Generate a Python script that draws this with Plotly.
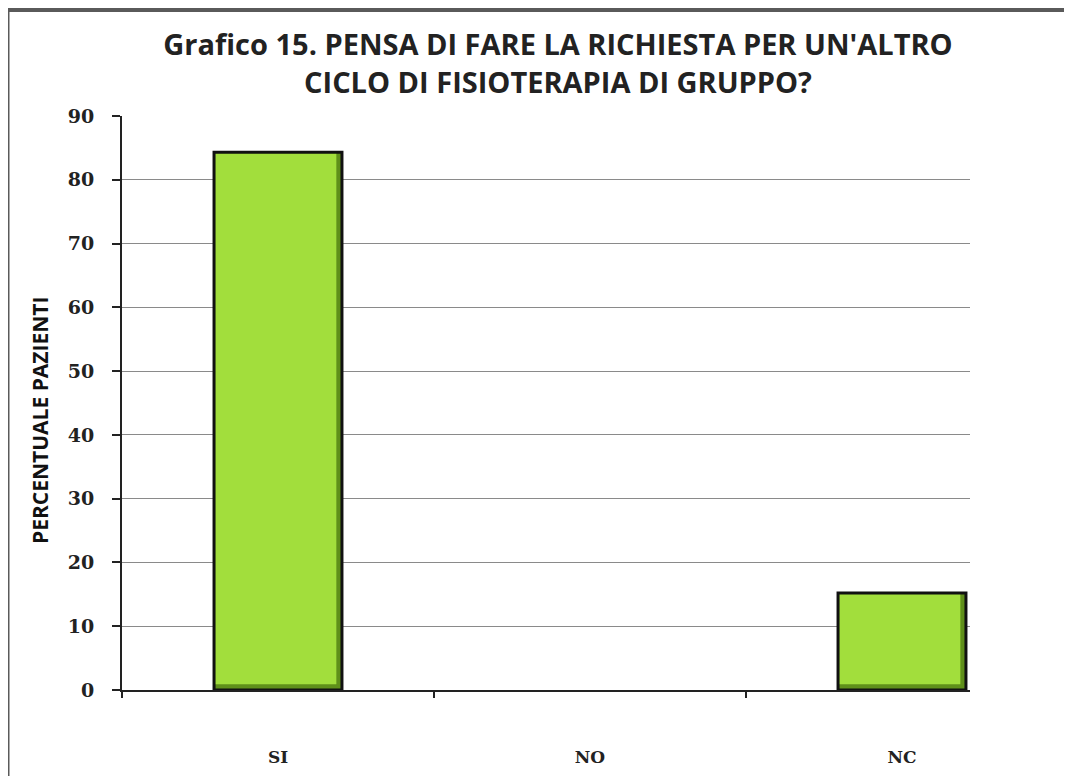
import plotly.graph_objects as go

categories = ["SI", "NO", "NC"]
values = [84.3, 0, 15.2]
y_ticks = [0, 10, 20, 30, 40, 50, 60, 70, 80, 90]

title_text = "Grafico 15. PENSA DI FARE LA RICHIESTA PER UN'ALTRO<br>CICLO DI FISIOTERAPIA DI GRUPPO?"
y_title = "PERCENTUALE PAZIENTI"

W, H = 1072, 776
OFF = 8  # page body margin
L, R, T, B = 122 - OFF, 102 + OFF, 116 - OFF, 86 + OFF
BAR_W = 0.41
BEVEL_X = 0.018   # category units
BEVEL_Y = 0.9     # data units

fig = go.Figure()
# dark base (bevel shadow)
fig.add_trace(go.Bar(
    x=categories, y=[v if v > 0 else None for v in values], width=BAR_W,
    marker=dict(color="#5f8f1a", line=dict(width=0)), hoverinfo="skip",
))
# light face
fig.add_trace(go.Bar(
    x=categories, y=[v - BEVEL_Y if v > 0 else None for v in values],
    base=BEVEL_Y, width=BAR_W - BEVEL_X, offset=-BAR_W / 2,
    marker=dict(color="#a2de3c", line=dict(width=0)), hoverinfo="skip",
))
# outline
fig.add_trace(go.Bar(
    x=categories, y=[v if v > 0 else None for v in values], width=BAR_W,
    marker=dict(color="rgba(0,0,0,0)", line=dict(color="#111111", width=3)),
    hoverinfo="x+y",
))

def px_to_paper_x(px):
    return (px - OFF - L) / (W - L - R)

def px_to_paper_y(py):
    return (H - B - (py - OFF)) / (H - T - B)

shapes = [
    dict(type="line", xref="paper", yref="paper",
         x0=px_to_paper_x(0), x1=px_to_paper_x(W + OFF), y0=px_to_paper_y(10), y1=px_to_paper_y(10),
         line=dict(color="#5a5a5a", width=4)),
    dict(type="line", xref="paper", yref="paper",
         x0=px_to_paper_x(8), x1=px_to_paper_x(8), y0=px_to_paper_y(10), y1=px_to_paper_y(H + OFF),
         line=dict(color="#5a5a5a", width=3)),
]

annotations = [
    dict(text=y_title, textangle=-90, xref="paper", yref="paper",
         x=px_to_paper_x(40), y=px_to_paper_y(421), xanchor="center", yanchor="middle",
         showarrow=False,
         font=dict(family="Open Sans", size=21, color="#111111", weight="bold")),
]

fig.update_layout(
    width=W, height=H,
    margin=dict(l=L, r=R, t=T, b=B, autoexpand=False),
    paper_bgcolor="white", plot_bgcolor="white",
    showlegend=False, barmode="overlay",
    title=dict(text=title_text, x=(558 - OFF) / W, xanchor="center", xref="container",
               y=1 - 47 / H, yanchor="middle", automargin=False,
               font=dict(family="Open Sans", size=29, color="#222222", weight="bold")),
    shapes=shapes, annotations=annotations,
)
fig.update_xaxes(
    type="category", range=[-0.5, -0.5 + (W - L - R) / 312], automargin=False,
    showline=True, linecolor="#222222", linewidth=2,
    ticks="outside", tickson="boundaries", ticklen=6, tickwidth=2, tickcolor="#222222",
    showgrid=False, ticklabelstandoff=51,
    tickfont=dict(family="DejaVu Serif", size=17, color="#222222", weight="bold"),
)
fig.update_yaxes(
    range=[0, 90], tickvals=y_ticks, automargin=False,
    showline=True, linecolor="#222222", linewidth=2,
    ticks="outside", ticklen=8, tickwidth=2, tickcolor="#222222",
    showgrid=True, gridcolor="#8a8a8a", gridwidth=1,
    zeroline=False, ticklabelstandoff=14,
    tickfont=dict(family="DejaVu Serif", size=19, color="#222222", weight="bold"),
)

fig.write_html("out.html")
